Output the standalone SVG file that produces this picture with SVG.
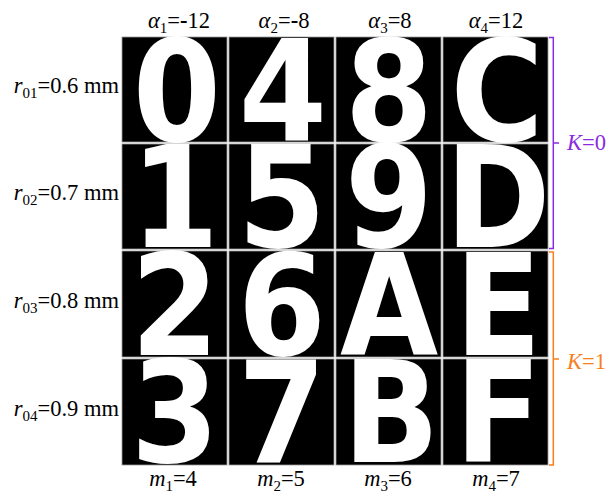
<svg xmlns="http://www.w3.org/2000/svg" width="609" height="494" viewBox="0 0 609 494">
<style>
.cell{fill:#000;stroke:#9a9a9a;stroke-width:0.8}
.glyph{font-family:"DejaVu Sans Condensed","DejaVu Sans",Verdana,sans-serif;font-stretch:condensed;font-weight:bold;font-size:141px;fill:#fff;text-anchor:middle}
.lbl{font-family:"Liberation Serif","Times New Roman",serif;font-size:22.5px;fill:#000}
.it{font-style:italic}
.sub{font-size:15px}
.b{font-weight:bold}
.kp{fill:#8a2be2}
.ko{fill:#f7801e}
</style>
<rect width="609" height="494" fill="#fff"/>
<g id="grid">
<g id="cell-0"><rect class="cell" x="122" y="37" width="105" height="105"/><text class="glyph" x="177" y="141">0</text></g>
<g id="cell-4"><rect class="cell" x="229" y="37" width="105" height="105"/><text class="glyph" x="283" y="141">4</text></g>
<g id="cell-8"><rect class="cell" x="336" y="37" width="105" height="105"/><text class="glyph" x="389" y="141">8</text></g>
<g id="cell-C"><rect class="cell" x="443" y="37" width="105" height="105"/><text class="glyph" x="497" y="141">C</text></g>
<g id="cell-1"><rect class="cell" x="122" y="144" width="105" height="105"/><text class="glyph" x="175" y="247">1</text></g>
<g id="cell-5"><rect class="cell" x="229" y="144" width="105" height="105"/><text class="glyph" x="282" y="247">5</text></g>
<g id="cell-9"><rect class="cell" x="336" y="144" width="105" height="105"/><text class="glyph" x="389" y="247">9</text></g>
<g id="cell-D"><rect class="cell" x="443" y="144" width="105" height="105"/><text class="glyph" x="498" y="247">D</text></g>
<g id="cell-2"><rect class="cell" x="122" y="251" width="105" height="106"/><text class="glyph" x="175" y="355">2</text></g>
<g id="cell-6"><rect class="cell" x="229" y="251" width="105" height="106"/><text class="glyph" x="282" y="355">6</text></g>
<g id="cell-A"><rect class="cell" x="336" y="251" width="105" height="106"/><text class="glyph" x="389" y="355">A</text></g>
<g id="cell-E"><rect class="cell" x="443" y="251" width="105" height="106"/><text class="glyph" x="498" y="355">E</text></g>
<g id="cell-3"><rect class="cell" x="122" y="359" width="105" height="106"/><text class="glyph" x="175" y="462">3</text></g>
<g id="cell-7"><rect class="cell" x="229" y="359" width="105" height="106"/><text class="glyph" x="282" y="462">7</text></g>
<g id="cell-B"><rect class="cell" x="336" y="359" width="105" height="106"/><text class="glyph" x="391" y="462">B</text></g>
<g id="cell-F"><rect class="cell" x="443" y="359" width="105" height="106"/><text class="glyph" x="498" y="462">F</text></g>
</g>
<g id="col-labels" class="lbl" text-anchor="middle">
<text x="179" y="28"><tspan class="it">α</tspan><tspan class="sub" dy="5">1</tspan><tspan dy="-5">=</tspan><tspan class="b">-</tspan>12</text>
<text x="284" y="28"><tspan class="it">α</tspan><tspan class="sub" dy="5">2</tspan><tspan dy="-5">=</tspan><tspan class="b">-</tspan>8</text>
<text x="390" y="28"><tspan class="it">α</tspan><tspan class="sub" dy="5">3</tspan><tspan dy="-5">=8</tspan></text>
<text x="496" y="28"><tspan class="it">α</tspan><tspan class="sub" dy="5">4</tspan><tspan dy="-5">=12</tspan></text>
</g>
<g id="bottom-labels" class="lbl" text-anchor="middle">
<text x="173" y="486"><tspan class="it">m</tspan><tspan class="sub" dy="5">1</tspan><tspan dy="-5">=4</tspan></text>
<text x="281" y="486"><tspan class="it">m</tspan><tspan class="sub" dy="5">2</tspan><tspan dy="-5">=5</tspan></text>
<text x="388" y="486"><tspan class="it">m</tspan><tspan class="sub" dy="5">3</tspan><tspan dy="-5">=6</tspan></text>
<text x="496" y="486"><tspan class="it">m</tspan><tspan class="sub" dy="5">4</tspan><tspan dy="-5">=7</tspan></text>
</g>
<g id="row-labels" class="lbl" text-anchor="end">
<text x="119" y="93"><tspan class="it">r</tspan><tspan class="sub" dy="5">01</tspan><tspan dy="-5">=0.6 mm</tspan></text>
<text x="119" y="200"><tspan class="it">r</tspan><tspan class="sub" dy="5">02</tspan><tspan dy="-5">=0.7 mm</tspan></text>
<text x="119" y="308"><tspan class="it">r</tspan><tspan class="sub" dy="5">03</tspan><tspan dy="-5">=0.8 mm</tspan></text>
<text x="119" y="416"><tspan class="it">r</tspan><tspan class="sub" dy="5">04</tspan><tspan dy="-5">=0.9 mm</tspan></text>
</g>
<g id="connectors" fill="none" stroke-width="1.5">
<path d="M549,37.5 H553.3 V248.5 H549 M553.3,143 H559" stroke="#8a2be2"/>
<path d="M549,252 H553.3 V465 H549 M553.3,359 H559" stroke="#f7801e"/>
</g>
<g id="k-labels" class="lbl">
<text x="567" y="150" class="kp"><tspan class="it">K</tspan>=0</text>
<text x="567" y="369" class="ko"><tspan class="it">K</tspan>=1</text>
</g>
</svg>
